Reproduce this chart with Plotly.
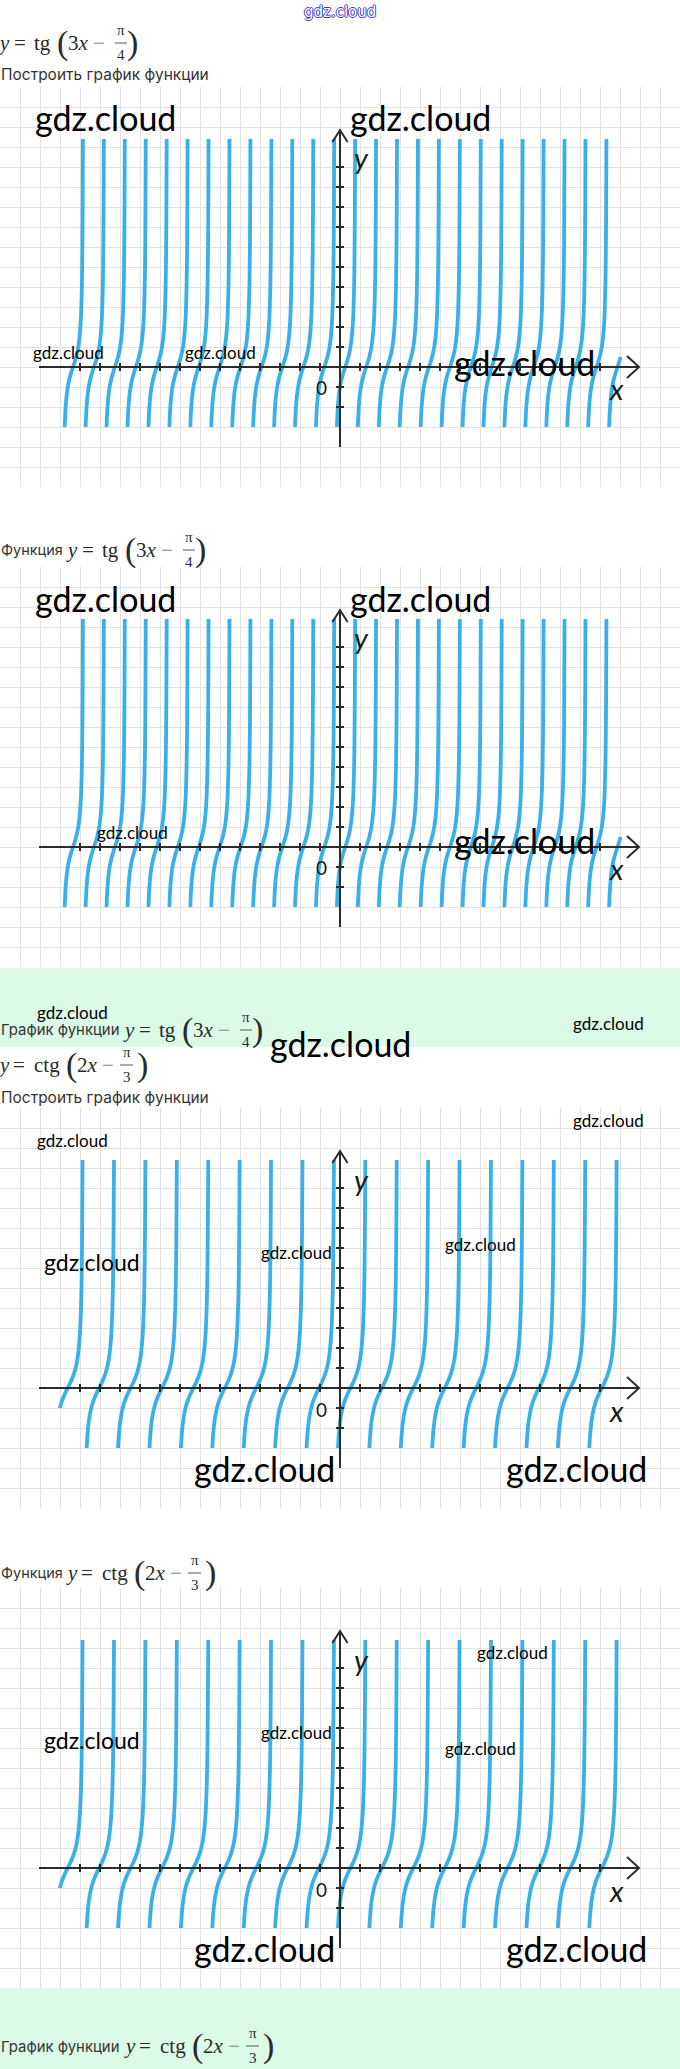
import plotly.graph_objects as go

W, H = 680, 2069

# ---------------- data ----------------
X_TICKS = [-13, -12, -11, -10, -9, -8, -7, -6, -5, -4, -3, -2, -1,
           1, 2, 3, 4, 5, 6, 7, 8, 9, 10, 11, 12, 13]
Y_TICKS = [-2, -1, 1, 2, 3, 4, 5, 6, 7, 8, 9, 10]

# one branch: y levels and horizontal offsets from its zero crossing
PROFILE_Y = [-3, -2.5, -2, -1.6, -1.3, -1, -0.75, -0.5, -0.25, 0, 0.25, 0.5,
             0.75, 1, 1.3, 1.6, 2, 2.5, 3, 4, 5, 6, 8, 11.4]
TG_DX = [-0.416, -0.397, -0.369, -0.337, -0.305, -0.262, -0.215, -0.155, -0.082, 0,
         0.082, 0.155, 0.215, 0.262, 0.305, 0.337, 0.369, 0.397, 0.416, 0.442,
         0.458, 0.469, 0.482, 0.494]
CTG_DX = [-0.625, -0.595, -0.554, -0.506, -0.458, -0.393, -0.322, -0.232, -0.123, 0,
          0.123, 0.232, 0.322, 0.393, 0.458, 0.506, 0.554, 0.595, 0.625, 0.663,
          0.687, 0.703, 0.723, 0.742]

# zero crossings of the branches
TG_CENTERS = [-13.349, -12.302, -11.255, -10.208, -9.161, -8.114, -7.067, -6.020,
              -4.973, -3.926, -2.879, -1.832, -0.785, 0.262, 1.309, 2.356, 3.403,
              4.450, 5.497, 6.544, 7.591, 8.638, 9.685, 10.732, 11.779, 12.826, 13.873]
CTG_CENTERS = [-13.614, -12.043, -10.472, -8.901, -7.330, -5.760, -4.189, -2.618,
               -1.047, 0.524, 2.094, 3.665, 5.236, 6.807, 8.378, 9.948, 11.519, 13.090]
TG_LAST_TOP = 0.5        # last tg branch stops here
CTG_FIRST_BOTTOM = -1.0  # first ctg branch starts here

X_AXIS_SPAN = [-15.05, 14.95]
Y_AXIS_SPAN = [-4.0, 11.85]

GRAPH_TOPS = [87, 567, 1108, 1588]
GRAPH_KINDS = ["tg", "tg", "ctg", "ctg"]

# watermarks: (x centre px, y centre px, font size)
WATERMARKS = [
    (105, 117, 34), (420, 117, 34),
    (68, 352, 17), (220, 352, 17), (524.5, 362, 34),
    (105, 598, 34), (420, 598, 34),
    (132, 832, 17), (524.5, 840, 34),
    (72, 1012, 17), (340.5, 1043, 34), (608, 1023, 17),
    (72, 1140, 17), (608, 1120, 17), (92, 1262, 23), (296, 1252, 17),
    (480, 1244, 17), (264.5, 1468, 34), (576.5, 1468, 34),
    (512, 1652, 17), (92, 1740, 23), (296, 1732, 17), (480, 1748, 17),
    (264.5, 1948, 34), (576.5, 1948, 34),
]

BANDS = [(968, 1047), (1988, 2069)]

CURVE_COLOR = "#39b1e8"
AXIS_COLOR = "#2b2b2b"
GRID_COLOR = "#e2e2e2"
BAND_COLOR = "#dbfbe8"
TEXT_COLOR = "#333333"
LATO = "Lato, Carlito, sans-serif"
SERIF = "Liberation Serif, Times New Roman, serif"
UI = "Inter, Noto Sans, sans-serif"

fig = go.Figure()
annotations = []
shapes = []


def branch_xy(centers, dx, kind):
    xs, ys = [], []
    n = len(centers)
    for i, c in enumerate(centers):
        for yv, d in zip(PROFILE_Y, dx):
            if kind == "tg" and i == n - 1 and yv > TG_LAST_TOP:
                continue
            if kind == "ctg" and i == 0 and yv < CTG_FIRST_BOTTOM:
                continue
            xs.append(c + d)
            ys.append(yv)
        xs.append(None)
        ys.append(None)
    return xs, ys


layout_axes = {}
for gi, (top, kind) in enumerate(zip(GRAPH_TOPS, GRAPH_KINDS)):
    n = gi + 1
    xa = "x" if n == 1 else f"x{n}"
    ya = "y" if n == 1 else f"y{n}"
    xkey = "xaxis" if n == 1 else f"xaxis{n}"
    ykey = "yaxis" if n == 1 else f"yaxis{n}"
    d0 = 1 - (top + 400) / H
    d1 = 1 - top / H
    layout_axes[xkey] = dict(domain=[0, 1], range=[-17, 17], anchor=ya, dtick=1,
                             showgrid=True, gridcolor=GRID_COLOR, gridwidth=1.2,
                             zeroline=False, showticklabels=False, ticks="",
                             showline=False, fixedrange=True)
    layout_axes[ykey] = dict(domain=[d0, d1], range=[-6, 14], anchor=xa, dtick=1,
                             showgrid=True, gridcolor=GRID_COLOR, gridwidth=1.2,
                             zeroline=False, showticklabels=False, ticks="",
                             showline=False, fixedrange=True)

    centers = TG_CENTERS if kind == "tg" else CTG_CENTERS
    dx = TG_DX if kind == "tg" else CTG_DX
    bx, by = branch_xy(centers, dx, kind)
    fig.add_trace(go.Scatter(x=bx, y=by, mode="lines", xaxis=xa, yaxis=ya,
                             line=dict(color=CURVE_COLOR, width=3.8, shape="spline",
                                       smoothing=1.0),
                             connectgaps=False, hoverinfo="skip", showlegend=False))

    # axes with arrows
    ax_x, ax_y = [], []
    ax_x += [X_AXIS_SPAN[0], X_AXIS_SPAN[1], None]
    ax_y += [0, 0, None]
    ax_x += [X_AXIS_SPAN[1] - 0.6, X_AXIS_SPAN[1], X_AXIS_SPAN[1] - 0.6, None]
    ax_y += [0.55, 0, -0.55, None]
    ax_x += [0, 0, None]
    ax_y += [Y_AXIS_SPAN[0], Y_AXIS_SPAN[1], None]
    ax_x += [-0.38, 0, 0.38, None]
    ax_y += [Y_AXIS_SPAN[1] - 0.6, Y_AXIS_SPAN[1], Y_AXIS_SPAN[1] - 0.6, None]
    fig.add_trace(go.Scatter(x=ax_x, y=ax_y, mode="lines", xaxis=xa, yaxis=ya,
                             line=dict(color=AXIS_COLOR, width=2),
                             hoverinfo="skip", showlegend=False))
    tx, ty = [], []
    for t in X_TICKS:
        tx += [t, t, None]
        ty += [-0.2, 0.2, None]
    for t in Y_TICKS:
        tx += [-0.2, 0.2, None]
        ty += [t, t, None]
    fig.add_trace(go.Scatter(x=tx, y=ty, mode="lines", xaxis=xa, yaxis=ya,
                             line=dict(color=AXIS_COLOR, width=2),
                             hoverinfo="skip", showlegend=False))

    annotations.append(dict(x=-0.95, y=-1.05, xref=xa, yref=ya, text="0",
                            showarrow=False, font=dict(family=LATO, size=19, color="#1a1a1a")))
    annotations.append(dict(x=1.05, y=10.45, xref=xa, yref=ya, text="<i>y</i>",
                            showarrow=False, font=dict(family=LATO, size=29, color="#1a1a1a")))
    annotations.append(dict(x=13.83, y=-1.1, xref=xa, yref=ya, text="<i>x</i>",
                            showarrow=False, font=dict(family=LATO, size=29, color="#1a1a1a")))

# overlay pixel axes
fig.add_trace(go.Scatter(x=[], y=[], xaxis="x5", yaxis="y5", showlegend=False,
                         hoverinfo="skip"))
layout_axes["xaxis5"] = dict(domain=[0, 1], range=[0, W], anchor="y5", visible=False,
                             fixedrange=True)
layout_axes["yaxis5"] = dict(domain=[0, 1], range=[H, 0], anchor="x5", visible=False,
                             fixedrange=True)


def ptxt(x, y, s, size, family=UI, color=TEXT_COLOR, xanchor="center"):
    annotations.append(dict(x=x, y=y, xref="x5", yref="y5", text=s, showarrow=False,
                            xanchor=xanchor, yanchor="middle", borderpad=0,
                            font=dict(family=family, size=size, color=color)))


def formula(x0, yc, kind):
    if kind == "tg":
        parts = [("<i>y</i>", 4), ("=", 20), ("tg", 42), ("3<i>x</i>", 78), ("−", 99)]
        lp, rp, fx, den, bar = 62.5, 132.5, 121, "4", (115, 127)
    else:
        parts = [("<i>y</i>", 4), ("=", 19), ("ctg", 47), ("2<i>x</i>", 87), ("−", 107.5)]
        lp, rp, fx, den, bar = 71, 142.5, 126.5, "3", (120, 133)
    for s, cx in parts:
        col = "#888888" if s == "−" else "#2a2a2a"
        ptxt(x0 + cx, yc, s, 21, SERIF, col)
    ptxt(x0 + lp, yc, "(", 34, SERIF, "#2a2a2a")
    ptxt(x0 + rp, yc, ")", 34, SERIF, "#2a2a2a")
    ptxt(x0 + fx, yc - 13, "π", 15, SERIF, "#2a2a2a")
    ptxt(x0 + fx, yc + 12, den, 15, SERIF, "#2a2a2a")
    shapes.append(dict(type="line", xref="x5", yref="y5", x0=x0 + bar[0], x1=x0 + bar[1],
                       y0=yc, y1=yc, line=dict(color="#555555", width=1)))


# bands
for b0, b1 in BANDS:
    shapes.append(dict(type="rect", xref="x5", yref="y5", x0=0, x1=W, y0=b0, y1=b1,
                       fillcolor=BAND_COLOR, line=dict(width=0), layer="below"))

# top blue watermark
annotations.append(dict(x=340, y=12, xref="x5", yref="y5", text="gdz.cloud",
                        showarrow=False,
                        font=dict(family="DejaVu Sans, sans-serif", size=15, color="white",
                                  shadow="-1px 0 #3b3bd6, 1px 0 #3b3bd6, 0 -1px #3b3bd6, 0 1px #3b3bd6")))

# headers and captions
formula(0, 43, "tg")
ptxt(0, 74, "Построить график функции", 15.5, xanchor="left")
ptxt(0, 549, "Функция", 14.5, xanchor="left")
formula(68, 550, "tg")
ptxt(0, 1030, "График функции", 14.9, xanchor="left")
formula(125, 1030, "tg")
formula(0, 1065, "ctg")
ptxt(0, 1097, "Построить график функции", 15.5, xanchor="left")
ptxt(0, 1572, "Функция", 14.5, xanchor="left")
formula(68, 1573, "ctg")
ptxt(0, 2047, "График функции", 14.9, xanchor="left")
formula(126, 2046, "ctg")

for cx, cy, sz in WATERMARKS:
    ptxt(cx, cy, "gdz.cloud", sz, LATO, "#000000")

fig.update_layout(width=W, height=H, autosize=False,
                  margin=dict(l=0, r=0, t=0, b=0),
                  paper_bgcolor="white", plot_bgcolor="rgba(0,0,0,0)",
                  showlegend=False, annotations=annotations, shapes=shapes,
                  **layout_axes)

fig.write_html("out.html", config={"displayModeBar": False},
               post_script="document.body.style.margin='0px';document.body.style.padding='0px';")
